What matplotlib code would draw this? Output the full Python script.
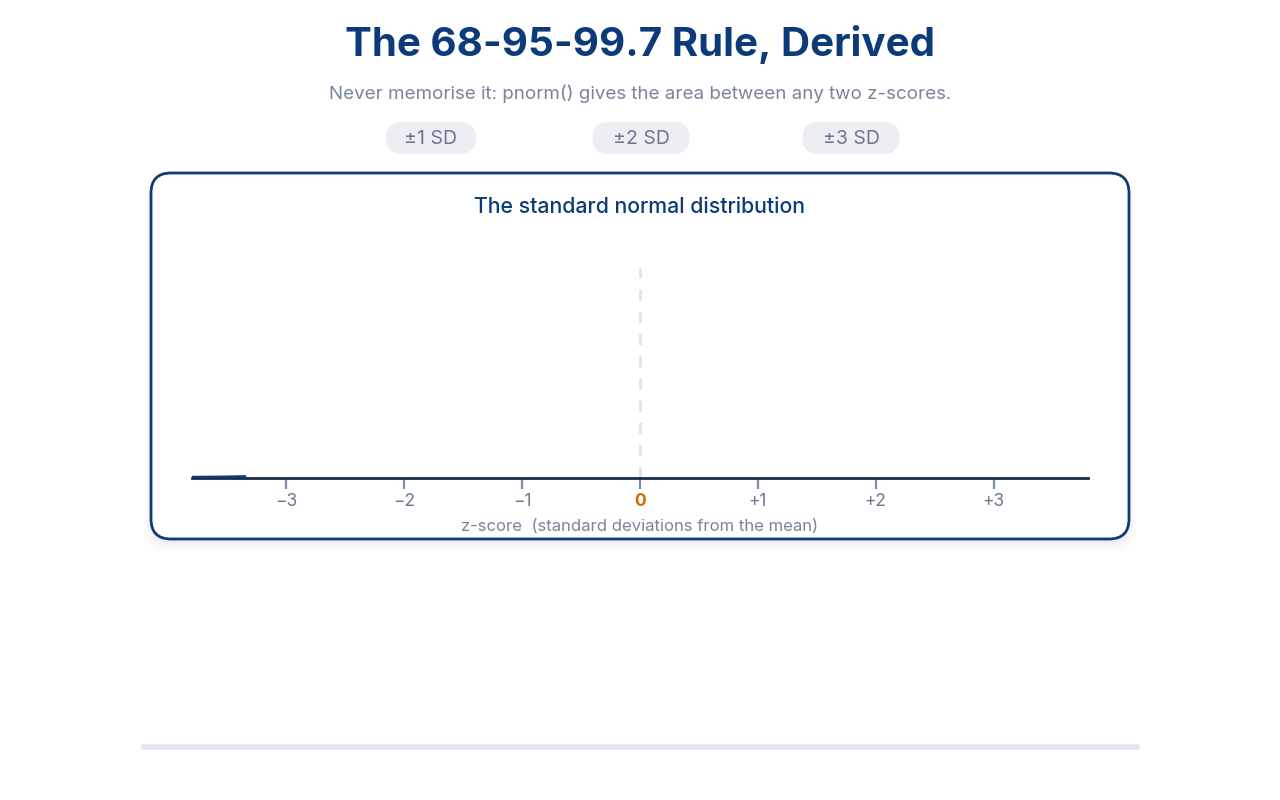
import numpy as np
import matplotlib.pyplot as plt
from matplotlib.patches import FancyBboxPatch

################ Data ###############################

z_ticks     = [-3, -2, -1, 0, 1, 2, 3]
tick_labels = ['\u22123', '\u22122', '\u22121', '0', '+1', '+2', '+3']
pill_labels = ['\u00b11 SD', '\u00b12 SD', '\u00b13 SD']

# visible piece of the curve (animation has only just started)
curve_z   = [-3.8, -3.7, -3.6, -3.5, -3.34]
curve_pdf = [0.0003, 0.0004, 0.0006, 0.0009, 0.0015]

################ Colours ############################

navy   = '#0d3b7a'
grey   = '#7a8499'
tick_c = '#7d8fb0'
orange = '#d46a00'

plt.rcParams['font.family'] = ['Inter', 'DejaVu Sans']

fig = plt.figure(figsize=(12.8, 8), dpi=100)
fig.patch.set_facecolor('white')

# background axes in pixel coordinates
bg = fig.add_axes([0, 0, 1, 1])
bg.set_xlim(0, 1280)
bg.set_ylim(800, 0)
bg.axis('off')

bg.text(640, 45, 'The 68-95-99.7 Rule, Derived', ha='center', va='center',
        fontsize=29, fontweight='bold', color=navy)
bg.text(640, 94, 'Never memorise it: pnorm() gives the area between any two z-scores.',
        ha='center', va='center', fontsize=13.5, color=grey)

################ Pills ##############################

for cx, w, lab in zip([431, 641, 851], [90, 97, 97], pill_labels):
    bg.add_patch(FancyBboxPatch((cx - w / 2, 122), w, 32,
                                boxstyle='round,pad=0,rounding_size=16',
                                fc='#eceef3', ec='none'))
    bg.text(cx, 139, lab, ha='center', va='center', fontsize=14, color='#6b7890')

################ Card ###############################

for i, a in enumerate([0.025, 0.02, 0.015, 0.01]):
    off = 4 + i * 3
    bg.add_patch(FancyBboxPatch((151 - i * 2, 173 + off), 978 + i * 4, 366,
                                boxstyle='round,pad=0,rounding_size=20',
                                fc='#1a2a4a', ec='none', alpha=a))
bg.add_patch(FancyBboxPatch((151, 173), 978, 366,
                            boxstyle='round,pad=0,rounding_size=20',
                            fc='white', ec=navy, lw=2))
bg.text(640, 207, 'The standard normal distribution', ha='center', va='center',
        fontsize=15.3, fontweight='medium', color=navy)

# bottom progress bar
bg.add_patch(FancyBboxPatch((141, 744), 999, 6,
                            boxstyle='round,pad=0,rounding_size=3',
                            fc='#e3e7ef', ec='none'))

################ Plot ###############################

ax = fig.add_axes([192 / 1280, (800 - 478) / 800, 896 / 1280, 210 / 800])
ax.patch.set_alpha(0)
ax.set_xlim(-3.8, 3.8)
ax.set_ylim(0, 0.4)

ax.axvline(0, ymin=0, ymax=1, color='#dde3ee', lw=2, ls=(0, (4, 4)), zorder=1)
ax.plot(curve_z, curve_pdf, color=navy, lw=3, solid_capstyle='butt', zorder=3)

for s in ['top', 'right', 'left']:
    ax.spines[s].set_visible(False)
ax.spines['bottom'].set_color('#1a2a4a')
ax.spines['bottom'].set_linewidth(2)
ax.set_yticks([])
ax.set_xticks(z_ticks)
ax.set_xticklabels(tick_labels, fontsize=12.5, color='#6b7890')
ax.tick_params(axis='x', length=8, width=1.6, color=tick_c, pad=3)
lbl = ax.get_xticklabels()[3]
lbl.set_color(orange)
lbl.set_fontweight('bold')
ax.set_xlabel('z-score  (standard deviations from the mean)', fontsize=12,
              color=grey, labelpad=6)

fig.savefig('out.png', dpi=100)
